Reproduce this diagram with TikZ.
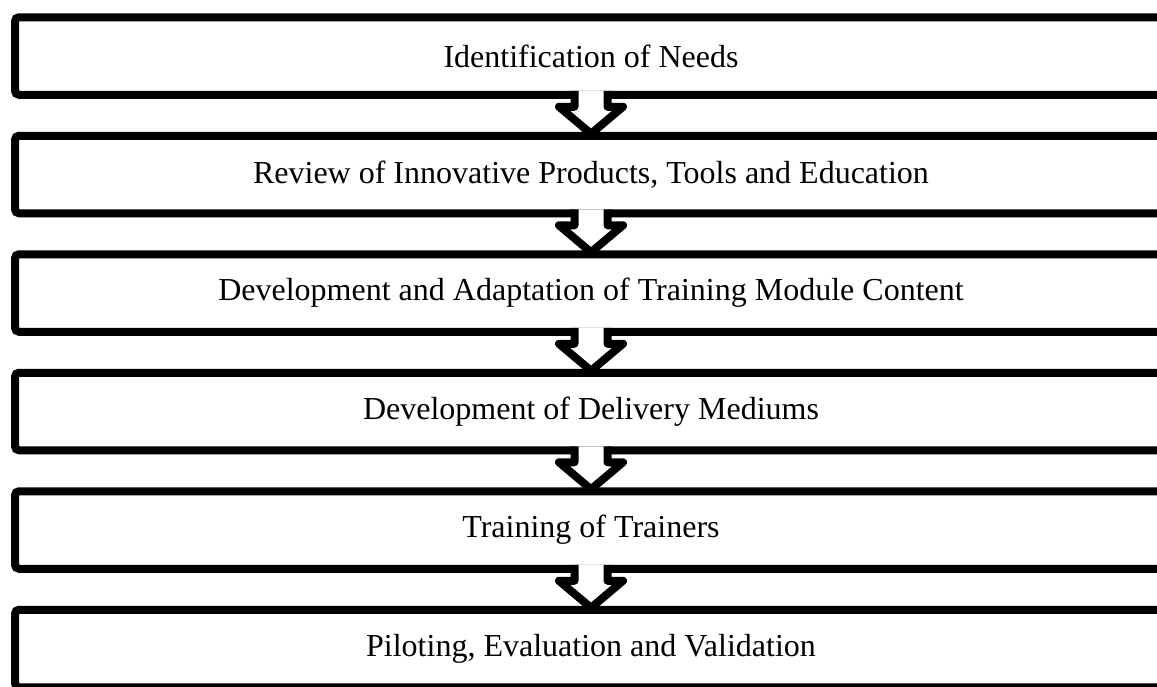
\documentclass[tikz,border=0pt]{standalone}
\usepackage{fontspec}
\setmainfont{Liberation Serif}
\usetikzlibrary{positioning,shadows}

\begin{document}
\begin{tikzpicture}[
    stage/.style={draw, line width=8pt, rounded corners=4pt, fill=white,
        minimum width=1152pt, minimum height=77.5pt, outer sep=0pt,
        drop shadow={shadow xshift=0pt, shadow yshift=-4pt, opacity=0.22},
        font=\fontsize{32}{38}\selectfont},
    hollow/.style={line width=8pt, line join=round, fill=white},
    node distance=41pt
]
    \useasboundingbox (0,0) rectangle (1157pt,-686pt);
    \node[stage] (need) at (591pt,-56pt) {Identification of Needs};
    \node[stage, below=of need] (review) {Review of Innovative Products, Tools and Education};
    \node[stage, below=of review] (content) {Development and Adaptation of Training Module Content};
    \node[stage, below=of content] (medium) {Development of Delivery Mediums};
    \node[stage, below=of medium] (trainer) {Training of Trainers};
    \node[stage, below=of trainer] (pilot) {Piloting, Evaluation and Validation};
    \foreach \a/\b in {need/review, review/content, content/medium, medium/trainer, trainer/pilot}
        \filldraw[hollow] ([shift={(-16.5pt,4pt)}]\a.south) -- ++(0,-16pt) -- ++(-15.5pt,0)
            -- ([yshift=2pt]\b.north) -- ([shift={(32pt,-12pt)}]\a.south) -- ++(-15.5pt,0) -- ++(0,16pt);
\end{tikzpicture}
\end{document}
